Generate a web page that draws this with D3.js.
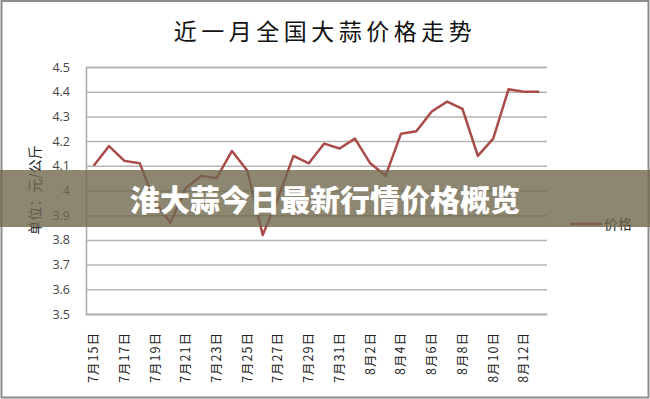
<!DOCTYPE html>
<html>
<head>
<meta charset="utf-8">
<script src="https://cdn.jsdelivr.net/npm/d3@7"></script>
<style>
  body { margin: 0; background: #fff; }
  svg { display: block; }
</style>
</head>
<body>
<script>
// data
const dates = ["7月15日","7月16日","7月17日","7月18日","7月19日","7月20日","7月21日","7月22日","7月23日","7月24日",
  "7月25日","7月26日","7月27日","7月28日","7月29日","7月30日","7月31日","8月1日","8月2日","8月3日",
  "8月4日","8月5日","8月6日","8月7日","8月8日","8月9日","8月10日","8月11日","8月12日","8月13日"];
const prices = [4.10, 4.18, 4.12, 4.11, 3.95, 3.87, 4.01, 4.06, 4.05, 4.16,
  4.08, 3.82, 3.97, 4.14, 4.11, 4.19, 4.17, 4.21, 4.11, 4.06,
  4.23, 4.24, 4.32, 4.36, 4.33, 4.14, 4.21, 4.41, 4.40, 4.40];
const yTicks = [3.5, 3.6, 3.7, 3.8, 3.9, 4.0, 4.1, 4.2, 4.3, 4.4, 4.5];
const xTickLabels = dates.filter((d, i) => i % 2 === 0);
const seriesName = "价格";
const title = "近一月全国大蒜价格走势";
const yTitle = "单位：元/公斤";
const banner = "淮大蒜今日最新行情价格概览";

const W = 650, H = 399;
const plot = {left: 86, right: 547, top: 67, bottom: 314};
const cjk = "'Noto Sans CJK SC', sans-serif";

const svg = d3.select("body").append("svg")
  .attr("width", W).attr("height", H);

svg.append("rect").attr("x", 1.5).attr("y", 1).attr("width", W - 3).attr("height", H - 2.5)
  .attr("fill", "#fff").attr("stroke", "#8c8c8c").attr("stroke-width", 2);

const x = d3.scaleBand().domain(dates).range([plot.left, plot.right]);
const y = d3.scaleLinear().domain([3.5, 4.5]).range([plot.bottom, plot.top]);

// title
svg.append("text").attr("x", 325).attr("y", 40)
  .attr("text-anchor", "middle")
  .style("font-family", cjk).style("font-size", "23px").style("letter-spacing", "4.5px")
  .attr("fill", "#111").text(title);

// y axis + gridlines
const yAxis = d3.axisLeft(y).tickValues(yTicks)
  .tickSize(-(plot.right - plot.left)).tickPadding(16)
  .tickFormat(d => String(+d.toFixed(1)));
const gy = svg.append("g").attr("transform", `translate(${plot.left},0)`).call(yAxis);
gy.select(".domain").attr("stroke", "#a8a8a8").attr("stroke-width", 1.5);
gy.selectAll(".tick line").attr("stroke", "#b4b4b4").attr("stroke-width", 1.5);
gy.selectAll(".tick text").attr("fill", "#444")
  .style("font-family", "'Open Sans', sans-serif").style("font-size", "12.5px");

// x axis
const xAxis = d3.axisBottom(x).tickValues(xTickLabels).tickSize(0).tickPadding(18);
const gx = svg.append("g").attr("transform", `translate(0,${plot.bottom})`).call(xAxis);
gx.select(".domain").attr("stroke", "#b4b4b4").attr("stroke-width", 1.5);
gx.selectAll(".tick text")
  .attr("transform", "rotate(-90)")
  .attr("text-anchor", "end").attr("x", -18).attr("y", 0).attr("dy", "0.35em")
  .attr("fill", "#222")
  .style("font-family", cjk).style("font-size", "12.5px").style("letter-spacing", "1px");

// y axis title
svg.append("text").attr("transform", "translate(35,190) rotate(-90)")
  .attr("text-anchor", "middle").attr("dy", "0.35em")
  .style("font-family", cjk).style("font-size", "14px")
  .attr("fill", "#222").text(yTitle);

// price line
const line = d3.line()
  .x((d, i) => x(dates[i]) + x.bandwidth() / 2)
  .y(d => y(d));
svg.append("path").datum(prices)
  .attr("fill", "none").attr("stroke", "#a94c49").attr("stroke-width", 2.5)
  .attr("stroke-linejoin", "round")
  .attr("d", line);

// legend
svg.append("line").attr("x1", 570).attr("x2", 602).attr("y1", 224).attr("y2", 224)
  .attr("stroke", "#a94c49").attr("stroke-width", 2.5);
svg.append("text").attr("x", 604).attr("y", 224).attr("dy", "0.35em")
  .style("font-family", cjk).style("font-size", "14px")
  .attr("fill", "#222").text(seriesName);

// overlay banner
svg.append("rect").attr("x", 0).attr("y", 170).attr("width", W).attr("height", 57)
  .attr("fill", "rgba(112,104,78,0.8)");
svg.append("text").attr("x", 325).attr("y", 200)
  .attr("text-anchor", "middle").attr("dy", "0.36em")
  .style("font-family", cjk).style("font-size", "30px").style("font-weight", 900)
  .attr("fill", "#fff").text(banner);
</script>
</body>
</html>
